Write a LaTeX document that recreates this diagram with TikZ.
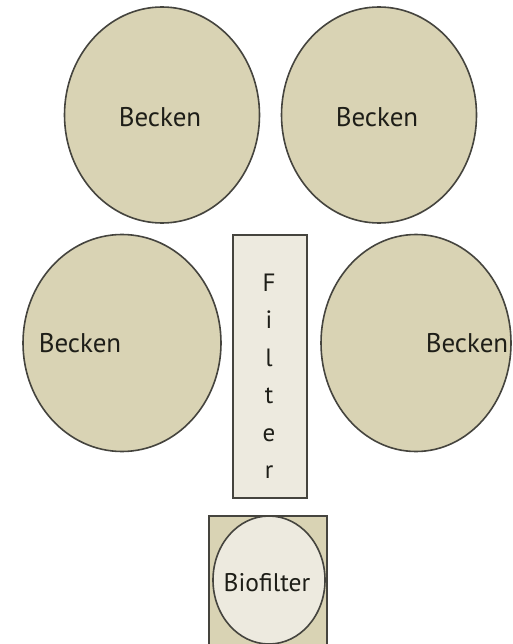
\documentclass[tikz,border=0pt]{standalone}
\usepackage{fontspec}
\setmainfont{PT Sans}
\usetikzlibrary{shapes.geometric}
\definecolor{tank}{HTML}{D9D3B4}
\definecolor{pale}{HTML}{EDEADF}
\definecolor{edge}{HTML}{45443E}
\definecolor{ink}{HTML}{1E1E18}
\tikzset{
  becken/.style={ellipse, draw=edge, fill=tank, line width=1.6pt, inner sep=0pt},
  lbl/.style={font=\fontsize{27}{31}\selectfont, text=ink, inner sep=0pt},
  filterbox/.style={draw=edge, fill=pale, line width=1.6pt, inner sep=0pt},
}
\begin{document}
\begin{tikzpicture}[x=1pt,y=-1pt]
\useasboundingbox (0,0) rectangle (512,644);
\clip (0,0) rectangle (512,644);
\fill[white] (0,0) rectangle (512,644);
% top tanks
\node[becken, minimum width=195pt, minimum height=216pt] (b1) at (162,115) {};
\node[lbl] (t1) at (160,117) {Becken};
\node[becken, minimum width=195pt, minimum height=216pt] (b2) at (379,115) {};
\node[lbl] (t2) at (377,117) {Becken};
% middle tanks
\node[becken, minimum width=198pt, minimum height=217pt] (b3) at (122,343) {};
\node[lbl] (t3) at (80,343) {Becken};
\node[becken, minimum width=190pt, minimum height=217pt] (b4) at (416,343) {};
\node[lbl] (t4) at (467,343) {Becken};
% filter
\node[filterbox, minimum width=74pt, minimum height=263pt] (f) at (270,366.5) {};
\node[lbl, align=center, font=\fontsize{25}{37.5}\selectfont] (ft) at (269,376) {F\\i\\l\\t\\e\\r};
% biofilter
\node[filterbox, fill=tank, minimum width=118pt, minimum height=150pt, anchor=north] (bf) at (268,515) {};
\node[ellipse, draw=edge, fill=pale, line width=1.6pt, minimum width=112pt, minimum height=128pt] (bc) at (269,580) {};
\node[lbl, font=\fontsize{25.5}{29}\selectfont] (bt) at (267,583) {Biofilter};
\end{tikzpicture}
\end{document}
